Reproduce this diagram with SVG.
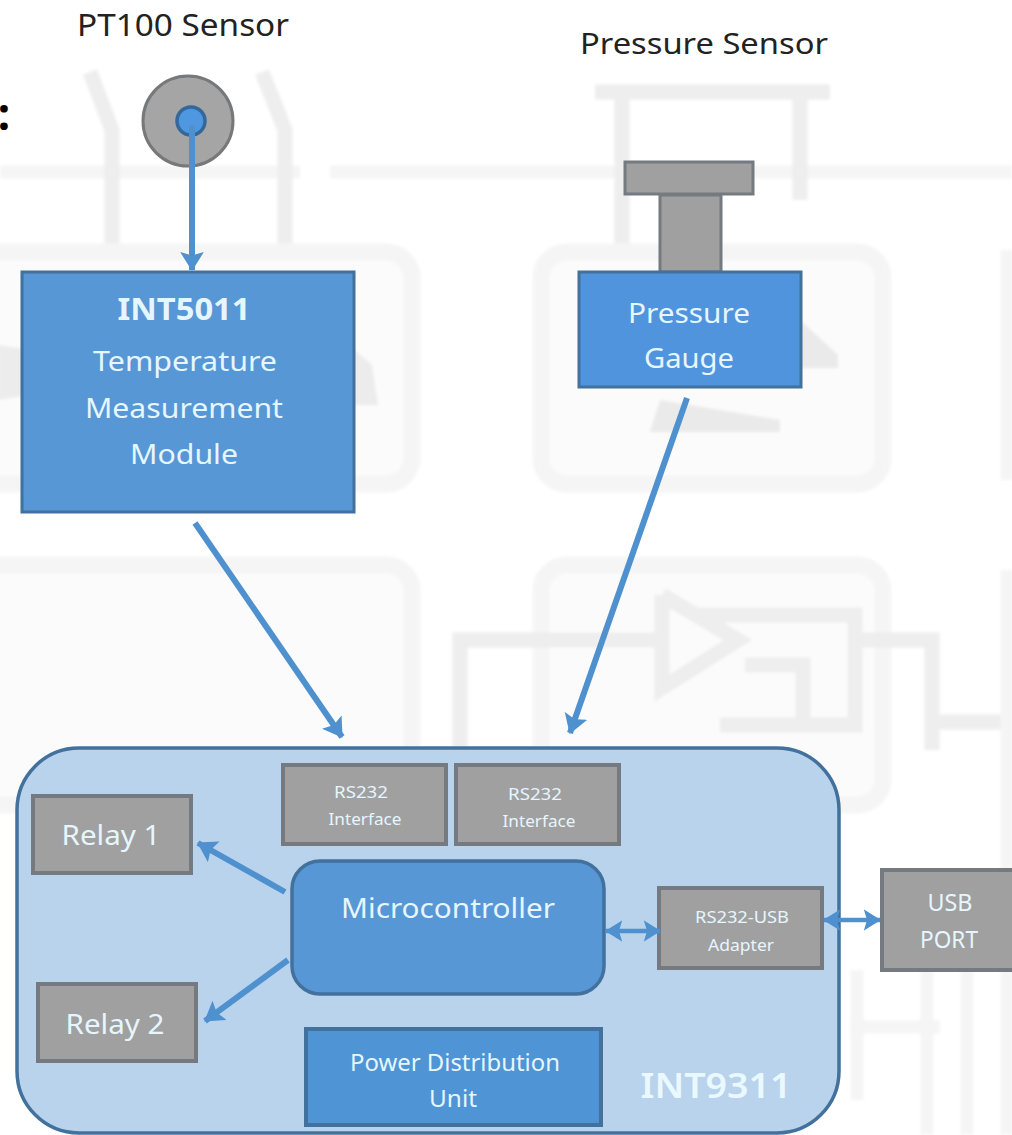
<svg xmlns="http://www.w3.org/2000/svg" width="1012" height="1135" viewBox="0 0 1012 1135">
<defs>
<marker id="ah" markerUnits="userSpaceOnUse" viewBox="0 0 8 10" refX="7.6" refY="5" markerWidth="19" markerHeight="24" orient="auto-start-reverse"><path d="M0 0L8 5L0 10L1.5 5Z" fill="#4f90ce"/></marker>
<marker id="as" markerUnits="userSpaceOnUse" viewBox="0 0 8 10" refX="7.6" refY="5" markerWidth="17" markerHeight="22" orient="auto-start-reverse"><path d="M0 0L8 5L0 10L1.5 5Z" fill="#4f90ce"/></marker>
<filter id="soft" x="-5%" y="-5%" width="110%" height="110%"><feGaussianBlur stdDeviation="1.8"/></filter>
</defs>
<style>
text{font-family:"Noto Sans","Open Sans","Liberation Sans",sans-serif;text-anchor:middle;fill:#e6f6ff}
.lab{fill:#222}
.blue{fill:#5797d6;stroke:#41719c;stroke-width:3}
.gray{fill:#a0a0a0;stroke:#747a80;stroke-width:4}
.c{fill:none;stroke:#4f90ce;stroke-width:6}
.bg{fill:none;stroke:#eeeeee;stroke-width:15}
.bg2{fill:none;stroke:#f5f5f5;stroke-width:13}
.pane{fill:#fbfbfb;stroke:#f5f5f5;stroke-width:17}
</style>
<rect width="1012" height="1135" fill="#fff"/>
<g id="watermark" filter="url(#soft)">
<path class="bg2" d="M0 172H300M330 172H1012"/>
<path class="bg" d="M90 72L112 130V245M262 72L285 130V245M595 92H830M622 92V250M800 92V200"/>
<rect class="pane" x="-30" y="252" width="442" height="232" rx="26"/>
<rect class="pane" x="541" y="252" width="342" height="232" rx="26"/>
<rect class="pane" x="-30" y="565" width="442" height="240" rx="26"/>
<rect class="pane" x="541" y="565" width="342" height="240" rx="26"/>
<path d="M-2 345L30 350V395L-2 400ZM340 338L372 365L378 405L340 405Z" fill="#ececec"/>
<path d="M800 320L838 355V368H800Z" fill="#eaeaea"/>
<path d="M660 400L650 432H780V420Z" fill="#eaeaea"/>
<path class="bg" d="M460 750V640H660M662 595V688L738 640L662 595M700 615H855V725H720M745 665H803V725M860 640H932V750M932 722H1012"/>
<path class="bg2" d="M1007 250V480M1007 570V1135M927 970V1135M967 970V1135M857 970V1100M850 1027H940"/>
</g>
<g id="int9311">
<rect x="17" y="748" width="822" height="385" rx="62" fill="#b9d3ec" stroke="#41719c" stroke-width="3.5"/>
<text x="716" y="1098" font-size="35" style="fill:#eaf8ff" font-weight="600" textLength="151" lengthAdjust="spacingAndGlyphs">INT9311</text>
</g>
<g id="pt100-sensor">
<text class="lab" x="183" y="36" font-size="30" textLength="212" lengthAdjust="spacingAndGlyphs">PT100 Sensor</text>
<circle cx="188" cy="121" r="45" fill="#a5a5a5" stroke="#77787a" stroke-width="3"/>
<circle cx="191" cy="121" r="14" fill="#4f97e0" stroke="#35689a" stroke-width="3.5"/>
</g>
<g id="colon"><text class="lab" x="4" y="130" font-size="44" font-weight="700" style="fill:#000">:</text></g>
<g id="int5011">
<rect class="blue" x="22" y="272" width="332" height="240"/>
<text x="184" y="320" font-size="31" font-weight="700" textLength="133" lengthAdjust="spacingAndGlyphs">INT5011</text>
<text x="185" y="371" font-size="28" textLength="184" lengthAdjust="spacingAndGlyphs">Temperature</text>
<text x="184" y="418" font-size="28" textLength="198" lengthAdjust="spacingAndGlyphs">Measurement</text>
<text x="184" y="464" font-size="28" textLength="108" lengthAdjust="spacingAndGlyphs">Module</text>
</g>
<g id="pressure-sensor">
<text class="lab" x="704" y="54" font-size="29" textLength="248" lengthAdjust="spacingAndGlyphs">Pressure Sensor</text>
<rect class="gray" x="625" y="162" width="128" height="32" style="stroke-width:3"/>
<rect class="gray" x="660" y="195" width="61" height="77" style="stroke-width:3"/>
</g>
<g id="pressure-gauge">
<rect class="blue" x="579" y="272" width="222" height="115" style="fill:#4f94dc"/>
<text x="689" y="323" font-size="28" textLength="122" lengthAdjust="spacingAndGlyphs">Pressure</text>
<text x="689" y="368" font-size="28" textLength="90" lengthAdjust="spacingAndGlyphs">Gauge</text>
</g>
<g id="relay-1">
<rect class="gray" x="33" y="796" width="158" height="77"/>
<text x="111" y="845" font-size="27" textLength="99" lengthAdjust="spacingAndGlyphs">Relay 1</text>
</g>
<g id="relay-2">
<rect class="gray" x="38" y="984" width="158" height="77"/>
<text x="115" y="1034" font-size="27" textLength="99" lengthAdjust="spacingAndGlyphs">Relay 2</text>
</g>
<g id="rs232-1">
<rect class="gray" x="283" y="765" width="163" height="79"/>
<text x="361" y="798" font-size="17" textLength="54" lengthAdjust="spacingAndGlyphs">RS232</text>
<text x="365" y="825" font-size="17" textLength="73" lengthAdjust="spacingAndGlyphs">Interface</text>
</g>
<g id="rs232-2">
<rect class="gray" x="456" y="765" width="163" height="79"/>
<text x="535" y="800" font-size="17" textLength="54" lengthAdjust="spacingAndGlyphs">RS232</text>
<text x="539" y="827" font-size="17" textLength="73" lengthAdjust="spacingAndGlyphs">Interface</text>
</g>
<g id="microcontroller">
<rect x="292" y="861" width="312" height="133" rx="28" fill="#5797d6" stroke="#41719c" stroke-width="3.5"/>
<text x="448" y="918" font-size="28" textLength="214" lengthAdjust="spacingAndGlyphs">Microcontroller</text>
</g>
<g id="power-distribution-unit">
<rect class="blue" x="306" y="1029" width="295" height="96" style="fill:#4f94d4;stroke-width:4"/>
<text x="455" y="1071" font-size="24" textLength="210" lengthAdjust="spacingAndGlyphs">Power Distribution</text>
<text x="453" y="1107" font-size="24" textLength="48" lengthAdjust="spacingAndGlyphs">Unit</text>
</g>
<g id="rs232-usb-adapter">
<rect class="gray" x="659" y="888" width="163" height="80"/>
<text x="742" y="923" font-size="16" textLength="94" lengthAdjust="spacingAndGlyphs">RS232-USB</text>
<text x="741" y="951" font-size="16" textLength="66" lengthAdjust="spacingAndGlyphs">Adapter</text>
</g>
<g id="usb-port">
<rect class="gray" x="882" y="870" width="132" height="100"/>
<text x="950" y="911" font-size="24" textLength="45" lengthAdjust="spacingAndGlyphs">USB</text>
<text x="949" y="948" font-size="24" textLength="58" lengthAdjust="spacingAndGlyphs">PORT</text>
</g>
<g id="connectors">
<path class="c" d="M192 125V270" marker-end="url(#ah)"/>
<path class="c" d="M195 523L342 737" marker-end="url(#ah)"/>
<path class="c" d="M687 398L570 733" marker-end="url(#ah)"/>
<path class="c" d="M285 892L198 843" marker-end="url(#ah)"/>
<path class="c" d="M288 960L205 1021" marker-end="url(#ah)"/>
<path class="c" d="M606 931H660" marker-start="url(#as)" marker-end="url(#as)" style="stroke-width:4.5"/>
<path class="c" d="M824 920H880" marker-start="url(#as)" marker-end="url(#as)" style="stroke-width:4.5"/>
</g>
</svg>
